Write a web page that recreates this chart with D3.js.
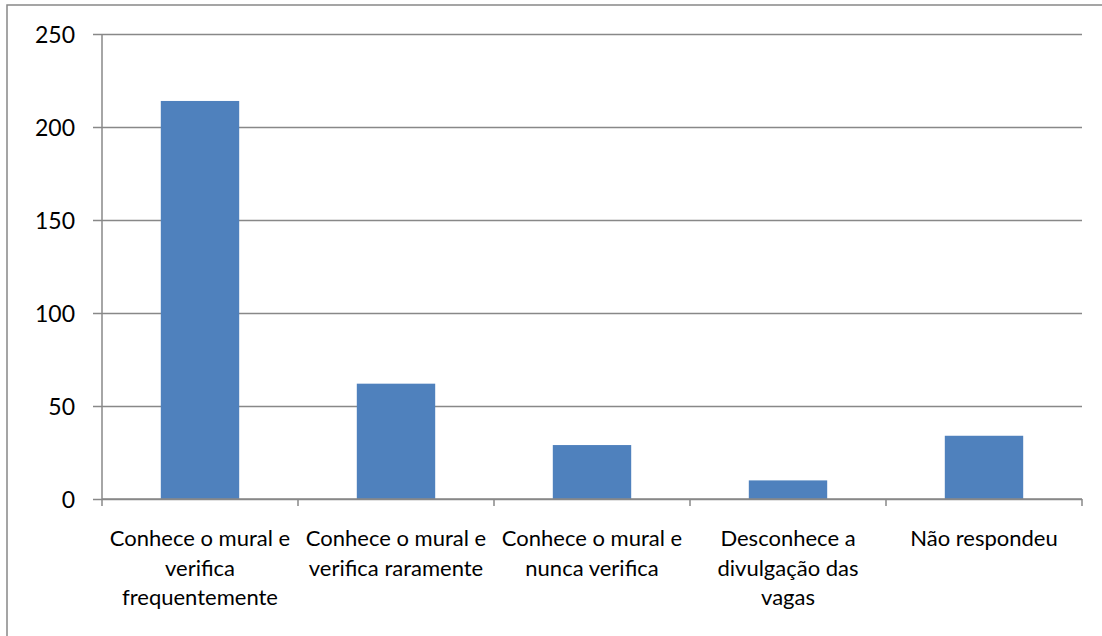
<!DOCTYPE html>
<html>
<head>
<meta charset="utf-8">
<script src="https://cdn.jsdelivr.net/npm/d3@7"></script>
<style>
  html, body { margin: 0; padding: 0; background: #fff; }
  svg text { font-family: Lato, "Open Sans", sans-serif; fill: #000; }
</style>
</head>
<body>
<svg id="chart" width="1102" height="636"></svg>
<script>
// Category labels, already split into the lines shown under the axis
const categories = [
  ["Conhece o mural e", "verifica", "frequentemente"],
  ["Conhece o mural e", "verifica raramente"],
  ["Conhece o mural e", "nunca verifica"],
  ["Desconhece a", "divulgação das", "vagas"],
  ["Não respondeu"]
];
const values = [214, 62, 29, 10, 34];
const yTicks = [0, 50, 100, 150, 200, 250];

const svg = d3.select("#chart");
const plot = { left: 102, right: 1082, top: 34, bottom: 499 };
const gridColor = "#888888";

// Outer chart frame
svg.append("rect")
  .attr("x", 7).attr("y", 5)
  .attr("width", 1110).attr("height", 650)
  .attr("fill", "none")
  .attr("stroke", gridColor)
  .attr("stroke-width", 1.5);

const x = d3.scaleBand()
  .domain(d3.range(categories.length))
  .range([plot.left, plot.right])
  .paddingInner(0.6)
  .paddingOuter(0.3);

const y = d3.scaleLinear()
  .domain([0, 250])
  .range([plot.bottom, plot.top]);

// Horizontal gridlines with short left ticks
const yAxis = svg.append("g")
  .attr("transform", `translate(${plot.left},0)`)
  .call(d3.axisLeft(y)
    .tickValues(yTicks)
    .tickSize(-(plot.right - plot.left))
    .tickPadding(27)
    .tickFormat(d3.format("d")));
yAxis.select(".domain").remove();
yAxis.selectAll(".tick line")
  .attr("x1", -9)
  .attr("stroke", gridColor)
  .attr("stroke-width", 1.5);
yAxis.selectAll(".tick text")
  .style("font-size", "23px")
  .attr("dy", "0.35em");

// Vertical value axis line
svg.append("line")
  .attr("x1", plot.left).attr("x2", plot.left)
  .attr("y1", plot.top).attr("y2", plot.bottom)
  .attr("stroke", gridColor).attr("stroke-width", 1.5);

// Bars
svg.append("g")
  .selectAll("rect")
  .data(values)
  .join("rect")
  .attr("x", (d, i) => x(i))
  .attr("width", x.bandwidth())
  .attr("y", d => y(d))
  .attr("height", d => y(0) - y(d))
  .attr("fill", "#4F81BD");

// Category axis: baseline and boundary ticks between categories
const step = x.step();
const boundaries = d3.range(categories.length + 1).map(i => plot.left + i * step);
svg.append("line")
  .attr("x1", plot.left).attr("x2", plot.right)
  .attr("y1", plot.bottom).attr("y2", plot.bottom)
  .attr("stroke", gridColor).attr("stroke-width", 1.5);
svg.append("g")
  .selectAll("line")
  .data(boundaries)
  .join("line")
  .attr("x1", d => d).attr("x2", d => d)
  .attr("y1", plot.bottom).attr("y2", plot.bottom + 7)
  .attr("stroke", gridColor).attr("stroke-width", 1.5);

// Multi-line category labels
const labels = svg.append("g")
  .selectAll("text")
  .data(categories)
  .join("text")
  .attr("text-anchor", "middle")
  .style("font-size", "22px")
  .attr("x", (d, i) => x(i) + x.bandwidth() / 2)
  .attr("y", 546);
labels.selectAll("tspan")
  .data(d => d)
  .join("tspan")
  .attr("x", function () { return this.parentNode.getAttribute("x"); })
  .attr("dy", (d, i) => i === 0 ? 0 : 29.5)
  .text(d => d);
</script>
</body>
</html>
